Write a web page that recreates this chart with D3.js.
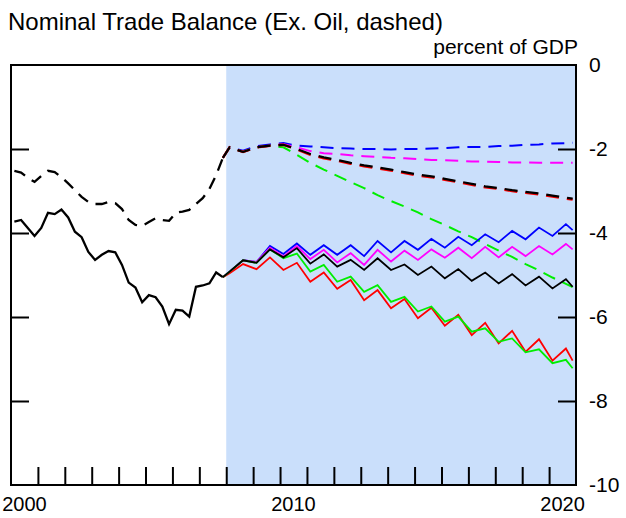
<!DOCTYPE html>
<html>
<head>
<meta charset="utf-8">
<script src="https://cdn.jsdelivr.net/npm/d3@7/dist/d3.min.js"></script>
<style>
  html, body { margin: 0; padding: 0; background: #fff; }
  svg { display: block; font-family: "Liberation Sans", Arial, sans-serif; }
</style>
</head>
<body>
<svg id="chart" width="626" height="518"></svg>
<script>
// ---------------- data ----------------
const title = "Nominal Trade Balance (Ex. Oil, dashed)";
const unitLabel = "percent of GDP";
const yTicks = [0, -2, -4, -6, -8, -10];
const xTickLabels = [2000, 2010, 2020];
const xMinorTicks = d3.range(2001, 2021);
const shadeStart = 2008;

// history, quarterly 2000Q1 - 2007Q4
const histDates = d3.range(32).map(i => 2000.125 + i / 4);
const histTotal = [-3.73, -3.69, -3.88, -4.07, -3.88, -3.52, -3.55, -3.44,
                   -3.63, -3.97, -4.10, -4.45, -4.64, -4.52, -4.43, -4.46,
                   -4.76, -5.18, -5.30, -5.65, -5.48, -5.53, -5.75, -6.17,
                   -5.83, -5.85, -5.99, -5.28, -5.25, -5.20, -4.94, -5.05];
const histExOil = [-2.52, -2.56, -2.69, -2.78, -2.64, -2.52, -2.55, -2.67,
                   -2.82, -2.98, -3.14, -3.26, -3.31, -3.31, -3.26, -3.29,
                   -3.43, -3.69, -3.81, -3.83, -3.74, -3.65, -3.69, -3.71,
                   -3.52, -3.49, -3.45, -3.31, -3.17, -2.95, -2.62, -2.21];

// projections, 2008Q1 .. 2020Q3 every two quarters, then 2020Q4
const projDates = d3.range(26).map(i => 2008.125 + i / 2).concat([2020.875]);

const projBlue    = [-4.92, -4.65, -4.69, -4.31, -4.50, -4.25, -4.52, -4.29, -4.52, -4.29,
                     -4.55, -4.19, -4.46, -4.19, -4.40, -4.14, -4.35, -4.09, -4.29, -4.03,
                     -4.22, -3.95, -4.15, -3.87, -4.07, -3.79, -3.93];
const projMagenta = [-4.92, -4.65, -4.69, -4.35, -4.56, -4.31, -4.62, -4.40, -4.70, -4.48,
                     -4.76, -4.40, -4.68, -4.42, -4.64, -4.39, -4.59, -4.35, -4.60, -4.33,
                     -4.58, -4.33, -4.55, -4.31, -4.51, -4.26, -4.39];
const projBlack   = [-4.92, -4.65, -4.71, -4.39, -4.58, -4.36, -4.73, -4.51, -4.80, -4.64,
                     -4.88, -4.60, -4.88, -4.75, -5.00, -4.80, -5.08, -4.86, -5.14, -4.94,
                     -5.20, -4.98, -5.25, -5.04, -5.32, -5.10, -5.28];
const projGreen   = [-4.92, -4.65, -4.71, -4.39, -4.60, -4.49, -4.92, -4.76, -5.16, -5.04,
                     -5.40, -5.24, -5.64, -5.52, -5.87, -5.75, -6.11, -5.99, -6.35, -6.27,
                     -6.59, -6.51, -6.84, -6.77, -7.10, -7.02, -7.22];
const projRed     = [-4.96, -4.74, -4.86, -4.58, -4.88, -4.71, -5.16, -4.94, -5.33, -5.12,
                     -5.60, -5.36, -5.79, -5.57, -6.03, -5.78, -6.21, -5.95, -6.43, -6.14,
                     -6.63, -6.33, -6.83, -6.53, -7.04, -6.75, -7.04];

const projBlueX    = [-1.96, -2.04, -1.93, -1.89, -1.86, -1.92, -1.94, -1.96, -1.98, -1.99,
                      -2.00, -2.00, -2.01, -2.00, -2.00, -1.99, -1.98, -1.96, -1.95, -1.95,
                      -1.93, -1.92, -1.90, -1.89, -1.87, -1.86, -1.85];
const projMagentaX = [-1.96, -2.07, -1.96, -1.92, -1.89, -1.96, -2.05, -2.10, -2.12, -2.15,
                      -2.17, -2.19, -2.21, -2.22, -2.24, -2.26, -2.27, -2.28, -2.30, -2.30,
                      -2.31, -2.32, -2.32, -2.33, -2.33, -2.33, -2.33];
const projBlackX   = [-1.96, -2.07, -1.96, -1.92, -1.90, -2.00, -2.12, -2.20, -2.26, -2.33,
                      -2.39, -2.44, -2.49, -2.55, -2.61, -2.65, -2.71, -2.77, -2.83, -2.89,
                      -2.93, -2.98, -3.02, -3.06, -3.11, -3.16, -3.18];
const projRedX     = [-1.96, -2.07, -1.96, -1.92, -1.90, -2.01, -2.14, -2.22, -2.28, -2.35,
                      -2.41, -2.46, -2.51, -2.57, -2.63, -2.67, -2.73, -2.79, -2.85, -2.91,
                      -2.95, -3.00, -3.04, -3.08, -3.13, -3.18, -3.20];
const projGreenX   = [-1.96, -2.07, -1.96, -1.92, -1.96, -2.14, -2.33, -2.49, -2.64, -2.79,
                      -2.93, -3.10, -3.24, -3.37, -3.51, -3.67, -3.81, -3.96, -4.10, -4.26,
                      -4.42, -4.57, -4.74, -4.89, -5.06, -5.21, -5.29];

// ---------------- chart ----------------
const svg = d3.select("#chart");
const pL = 11, pR = 576, pT = 65, pB = 485;
const x = d3.scaleLinear().domain([2000, 2021]).range([pL, pR]);
const y = d3.scaleLinear().domain([-10, 0]).range([pB, pT]);

// shaded projection area
svg.append("rect")
  .attr("x", x(shadeStart)).attr("y", pT)
  .attr("width", x(2021) - x(shadeStart)).attr("height", pB - pT)
  .attr("fill", "#cadffb");

const line = d3.line().x(d => x(d[0])).y(d => y(d[1]));
const zipS = (dates, vals) => dates.map((d, i) => [d, vals[i]]);
const lastHist = [histDates[histDates.length - 1], histTotal[histTotal.length - 1]];
const lastHistX = [histDates[histDates.length - 1], histExOil[histExOil.length - 1]];

const g = svg.append("g");

// dashed projections (ex oil)
const dashed = [
  [projBlueX, "#0000ff", 2],
  [projMagentaX, "#ff00ff", 2],
  [projGreenX, "#00ee00", 2],
  [projRedX, "#ff0000", 2.5],
  [projBlackX, "#000000", 2.2]
];
dashed.forEach(([vals, col, w]) => {
  g.append("path")
    .datum([lastHistX].concat(zipS(projDates, vals)))
    .attr("d", line)
    .attr("fill", "none").attr("stroke", col).attr("stroke-width", w)
    .attr("stroke-dasharray", "13,8");
});

// solid projections
const solid = [
  [projBlue, "#0000ff"],
  [projMagenta, "#ff00ff"],
  [projRed, "#ff0000"],
  [projGreen, "#00ee00"],
  [projBlack, "#000000"]
];
solid.forEach(([vals, col]) => {
  g.append("path")
    .datum([lastHist].concat(zipS(projDates, vals)))
    .attr("d", line)
    .attr("fill", "none").attr("stroke", col).attr("stroke-width", 1.8)
    .attr("stroke-linejoin", "miter");
});

// history
g.append("path")
  .datum(zipS(histDates, histExOil))
  .attr("d", line)
  .attr("fill", "none").attr("stroke", "#000").attr("stroke-width", 2.3)
  .attr("stroke-dasharray", "12,8");
g.append("path")
  .datum(zipS(histDates, histTotal))
  .attr("d", line)
  .attr("fill", "none").attr("stroke", "#000").attr("stroke-width", 2.3);

// frame
svg.append("rect")
  .attr("x", pL).attr("y", pT)
  .attr("width", pR - pL).attr("height", pB - pT)
  .attr("fill", "none").attr("stroke", "#000").attr("stroke-width", 2);

// bottom ticks (inside)
svg.append("g").attr("transform", `translate(0,${pB})`)
  .call(d3.axisTop(x).tickValues(xMinorTicks).tickSize(18).tickFormat(""))
  .call(a => a.select(".domain").remove())
  .call(a => a.selectAll("line").attr("stroke", "#000").attr("stroke-width", 2));

// x labels (centered on year)
svg.selectAll(".xlab").data(xTickLabels).enter().append("text")
  .attr("x", d => x(d + 0.5)).attr("y", 511)
  .attr("text-anchor", "middle").attr("font-size", 20).attr("fill", "#000")
  .text(d => d);

// y ticks left and right (inside)
const innerY = yTicks.filter(v => v > -10 && v < 0);
svg.append("g").attr("transform", `translate(${pL},0)`)
  .call(d3.axisRight(y).tickValues(innerY).tickSize(18).tickFormat(""))
  .call(a => a.select(".domain").remove())
  .call(a => a.selectAll("line").attr("stroke", "#000").attr("stroke-width", 2));
svg.append("g").attr("transform", `translate(${pR},0)`)
  .call(d3.axisLeft(y).tickValues(innerY).tickSize(18).tickFormat(""))
  .call(a => a.select(".domain").remove())
  .call(a => a.selectAll("line").attr("stroke", "#000").attr("stroke-width", 2));

// y labels on right
svg.selectAll(".ylab").data(yTicks).enter().append("text")
  .attr("x", 589).attr("y", d => y(d)).attr("dy", "0.35em")
  .attr("font-size", 21).attr("fill", "#000")
  .text(d => d);

// titles
svg.append("text").attr("x", 8).attr("y", 30)
  .attr("font-size", 24).attr("fill", "#000").text(title);
svg.append("text").attr("x", 578).attr("y", 54).attr("text-anchor", "end")
  .attr("font-size", 21).attr("fill", "#000").text(unitLabel);
</script>
</body>
</html>
